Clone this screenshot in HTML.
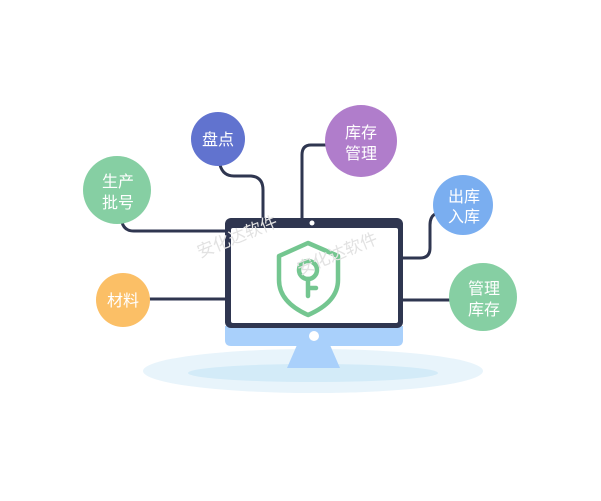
<!DOCTYPE html>
<html><head><meta charset="utf-8"><style>
html,body{margin:0;padding:0;background:#fff;width:601px;height:501px;overflow:hidden}
text{font-family:"Liberation Sans","Noto Sans CJK SC",sans-serif}
</style></head><body>
<svg width="601" height="501" viewBox="0 0 601 501" xmlns="http://www.w3.org/2000/svg">
<ellipse cx="313" cy="371" rx="170" ry="22" fill="#e8f4fb"/>
<ellipse cx="313" cy="373" rx="125" ry="9" fill="#d3ebf8"/>
<g fill="none" stroke="#2f3650" stroke-width="3">
<path d="M122,222 Q124,231 134,231 H228"/>
<path d="M220,165 Q223,176 234,176 H251 Q263,177 263,190 V220"/>
<path d="M326,145 H311 Q302,145 302,155 V220"/>
<path d="M435,214 Q430,217 430,225 V248 Q430,258 420,258 H400"/>
<path d="M400,300 H452"/>
<path d="M148,299 H227"/>
</g>
<path d="M297,345 H330 L340,368 H287 Z" fill="#a9d0fb"/>
<path d="M225,326 H403 V340 Q403,346 397,346 H231 Q225,346 225,340 Z" fill="#a9d0fb"/>
<circle cx="314" cy="336" r="5" fill="#fff"/>
<rect x="225" y="218" width="178" height="110" rx="6" fill="#2f3650"/>
<rect x="231" y="228" width="167" height="95" rx="2" fill="#fff"/>
<circle cx="312" cy="223" r="2.5" fill="#fff"/>
<g fill="none" stroke="#74c690" stroke-width="4.5" stroke-linejoin="round" stroke-linecap="round">
<path d="M308,243 L279,256 V280 Q279,302 308,315 Q338,302 338,280 V256 Z"/>
<circle cx="308" cy="270" r="9"/>
<path d="M308,279 V296 M308,288 H316"/>
</g>
<g fill="#e2e2e2" font-size="17">
<text x="200" y="258" transform="rotate(-22 200 258)">安化达软件</text>
<text x="300" y="275" transform="rotate(-22 300 275)">安化达软件</text>
</g>
<circle cx="117" cy="190" r="34" fill="#86cfa3"/>
<circle cx="218" cy="139" r="27" fill="#6173cf"/>
<circle cx="361" cy="141" r="36" fill="#b07dcb"/>
<circle cx="463" cy="205" r="30" fill="#7aaef0"/>
<circle cx="483" cy="297" r="34" fill="#86cfa3"/>
<circle cx="123" cy="300" r="27" fill="#fbbf66"/>
<g fill="#fff" font-size="16" text-anchor="middle">
<text x="118" y="187">生产</text><text x="118" y="208">批号</text>
<text x="218" y="145">盘点</text>
<text x="361" y="138">库存</text><text x="361" y="159">管理</text>
<text x="464" y="202">出库</text><text x="464" y="222">入库</text>
<text x="484" y="294">管理</text><text x="484" y="315">库存</text>
<text x="123" y="306">材料</text>
</g>
</svg>
</body></html>
